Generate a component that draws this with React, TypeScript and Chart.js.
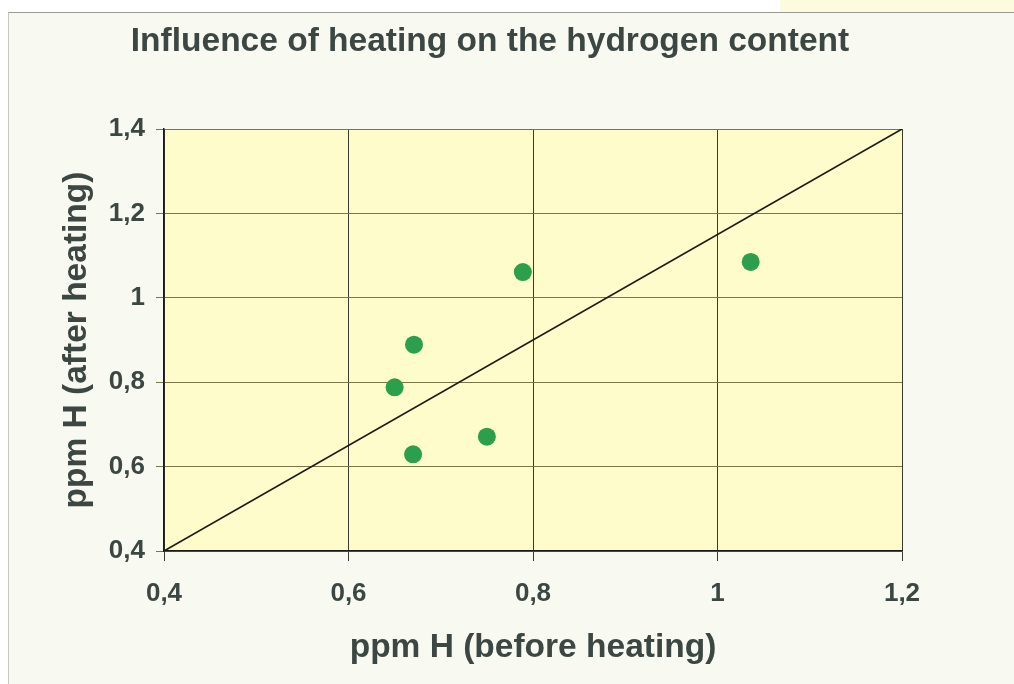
import React, { useEffect, useRef } from "react";
import { Chart, registerables } from "chart.js";

Chart.register(...registerables);

const TITLE = "Influence of heating on the hydrogen content";
const X_TITLE = "ppm H (before heating)";
const Y_TITLE = "ppm H (after heating)";

const beforeHeating = [0.789, 1.036, 0.671, 0.65, 0.75, 0.67];
const afterHeating = [1.061, 1.085, 0.889, 0.788, 0.671, 0.629];

const lineX = [0.4, 1.2];
const lineY = [0.4, 1.4];

const X_MIN = 0.4;
const X_MAX = 1.2;
const Y_MIN = 0.4;
const Y_MAX = 1.4;
const STEP = 0.2;

const FONT = "'Liberation Sans', Arial, Helvetica, sans-serif";
const TEXT_COLOR = "#3c4743";

const fmt = (v: number) => String(Math.round(v * 10) / 10).replace(".", ",");

const plotBg = {
  id: "plotBg",
  beforeDraw(chart: any) {
    const { ctx, chartArea } = chart;
    ctx.save();
    ctx.fillStyle = "#fffccb";
    ctx.fillRect(chartArea.left, chartArea.top, chartArea.right - chartArea.left, chartArea.bottom - chartArea.top);
    ctx.restore();
  },
};

const fixedTitle = {
  id: "fixedTitle",
  afterDraw(chart: any) {
    const { ctx } = chart;
    ctx.save();
    ctx.font = `bold 33.5px ${FONT}`;
    ctx.fillStyle = TEXT_COLOR;
    ctx.textAlign = "center";
    ctx.textBaseline = "middle";
    ctx.fillText(TITLE, 490, 42);
    ctx.restore();
  },
};

export default function App() {
  const ref = useRef<HTMLCanvasElement | null>(null);

  useEffect(() => {
    if (!ref.current) return;
    const chart = new Chart(ref.current, {
      type: "scatter",
      data: {
        datasets: [
          {
            type: "scatter",
            label: "samples",
            data: beforeHeating.map((x, i) => ({ x, y: afterHeating[i] })),
            backgroundColor: "#2c9f4d",
            borderWidth: 0,
            pointRadius: 9,
            order: 0,
          },
          {
            type: "line",
            label: "reference",
            data: lineX.map((x, i) => ({ x, y: lineY[i] })),
            borderColor: "#1c1c14",
            borderWidth: 1.6,
            pointRadius: 0,
            fill: false,
            order: 1,
          } as any,
        ],
      },
      options: {
        responsive: false,
        animation: false,
        layout: { padding: { left: 57, right: 112, top: 129, bottom: 16 } },
        plugins: {
          legend: { display: false },
          tooltip: { enabled: false },
          title: { display: false },
        },
        scales: {
          x: {
            type: "linear",
            min: X_MIN,
            max: X_MAX,
            afterFit: (s: any) => {
              s.height = 117;
            },
            ticks: {
              stepSize: STEP,
              callback: (v: any) => fmt(Number(v)),
              color: TEXT_COLOR,
              font: { family: FONT, size: 26, weight: "bold" },
              padding: 17,
            },
            grid: {
              color: "#3a3a30",
              lineWidth: 1,
              tickLength: 10,
              drawTicks: true,
            },
            border: { color: "#1a1a1a", width: 1.5 },
            title: {
              display: true,
              text: X_TITLE,
              color: TEXT_COLOR,
              font: { family: FONT, size: 33.5, weight: "bold", lineHeight: 1.2 },
              padding: 0,
            },
          },
          y: {
            type: "linear",
            min: Y_MIN,
            max: Y_MAX,
            afterFit: (s: any) => {
              s.width = 107;
            },
            ticks: {
              stepSize: STEP,
              callback: (v: any) => fmt(Number(v)),
              color: TEXT_COLOR,
              font: { family: FONT, size: 26, weight: "bold" },
              padding: 11,
            },
            grid: {
              color: "#7a7648",
              lineWidth: 1,
              tickLength: 8,
              drawTicks: true,
            },
            border: { color: "#1a1a1a", width: 1.5 },
            title: {
              display: true,
              text: Y_TITLE,
              color: TEXT_COLOR,
              font: { family: FONT, size: 33.5, weight: "bold", lineHeight: 1.2 },
              padding: 0,
            },
          },
        },
      },
      plugins: [plotBg, fixedTitle],
    });
    return () => chart.destroy();
  }, []);

  return (
    <div style={{ position: "fixed", left: 0, top: 0, width: 1014, height: 684, background: "#ffffff", overflow: "hidden" }}>
      <div style={{ position: "absolute", left: 780, top: 0, width: 234, height: 12, background: "#fdfbde" }} />
      <div
        style={{
          position: "absolute",
          left: 8,
          top: 12,
          right: 0,
          bottom: 0,
          background: "#f8faf1",
          borderTop: "1px solid #9a9a94",
          borderLeft: "1px solid #c8c8c2",
        }}
      />
      <canvas ref={ref} width={1014} height={684} style={{ position: "absolute", left: 0, top: 0, display: "block" }} />
    </div>
  );
}
